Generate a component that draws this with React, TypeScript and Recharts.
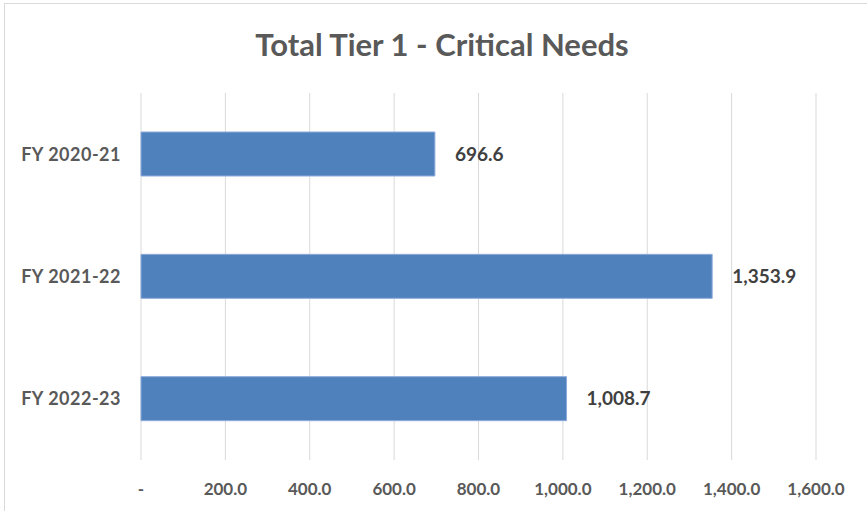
import React from 'react';
import { BarChart, Bar, XAxis, YAxis, CartesianGrid, LabelList } from 'recharts';

const title = 'Total Tier 1 - Critical Needs';
const categories = ['FY 2020-21', 'FY 2021-22', 'FY 2022-23'];
const values = [696.6, 1353.9, 1008.7];
const xTicks = [0, 200, 400, 600, 800, 1000, 1200, 1400, 1600];

const data = categories.map((name, i) => ({ name, value: values[i] }));

const fmt = (v: number) =>
  v === 0
    ? '-'
    : Number(v).toLocaleString('en-US', { minimumFractionDigits: 1, maximumFractionDigits: 1 });

const FONT = 'Lato, "Open Sans", sans-serif';

export default function App() {
  return (
    <div style={{ position: 'absolute', left: 0, top: 0, width: 867, height: 511, background: '#fff', overflow: 'hidden' }}>
      <div
        style={{
          position: 'absolute',
          left: 4,
          top: 3,
          width: 900,
          height: 600,
          borderLeft: '1px solid #d9d9d9',
          borderTop: '1px solid #d9d9d9',
        }}
      />
      <svg width={867} height={80} style={{ position: 'absolute', left: 0, top: 0 }}>
        <text x={442} y={56} textAnchor="middle" fontFamily={FONT} fontWeight={700} fontSize={31} fill="#595959">
          {title}
        </text>
      </svg>
      <div style={{ position: 'absolute', left: 0, top: 0 }}>
        <BarChart
          width={867}
          height={511}
          data={data}
          layout="vertical"
          margin={{ top: 93, right: 51, bottom: 0, left: 0 }}
          barSize={44}
        >
          <CartesianGrid horizontal={false} vertical={true} stroke="#d9d9d9" strokeWidth={1} />
          <XAxis
            type="number"
            domain={[0, 1600]}
            ticks={xTicks}
            tickFormatter={fmt}
            axisLine={false}
            tickLine={false}
            tickSize={0}
            tickMargin={23}
            height={51}
            interval={0}
            tick={{ fill: '#595959', fontSize: 17, fontWeight: 700, fontFamily: FONT }}
          />
          <YAxis
            type="category"
            dataKey="name"
            width={141}
            axisLine={false}
            tickLine={false}
            tickSize={0}
            tickMargin={20}
            tick={{ fill: '#595959', fontSize: 18, fontWeight: 700, fontFamily: FONT, letterSpacing: 0.5 }}
          />
          <Bar dataKey="value" fill="#4f81bd" stroke="#8eaadb" strokeWidth={1} isAnimationActive={false}>
            <LabelList
              dataKey="value"
              position="right"
              offset={20}
              formatter={(v: number) => fmt(v)}
              style={{ fill: '#404040', fontSize: 19, fontWeight: 700, fontFamily: FONT }}
            />
          </Bar>
        </BarChart>
      </div>
    </div>
  );
}
